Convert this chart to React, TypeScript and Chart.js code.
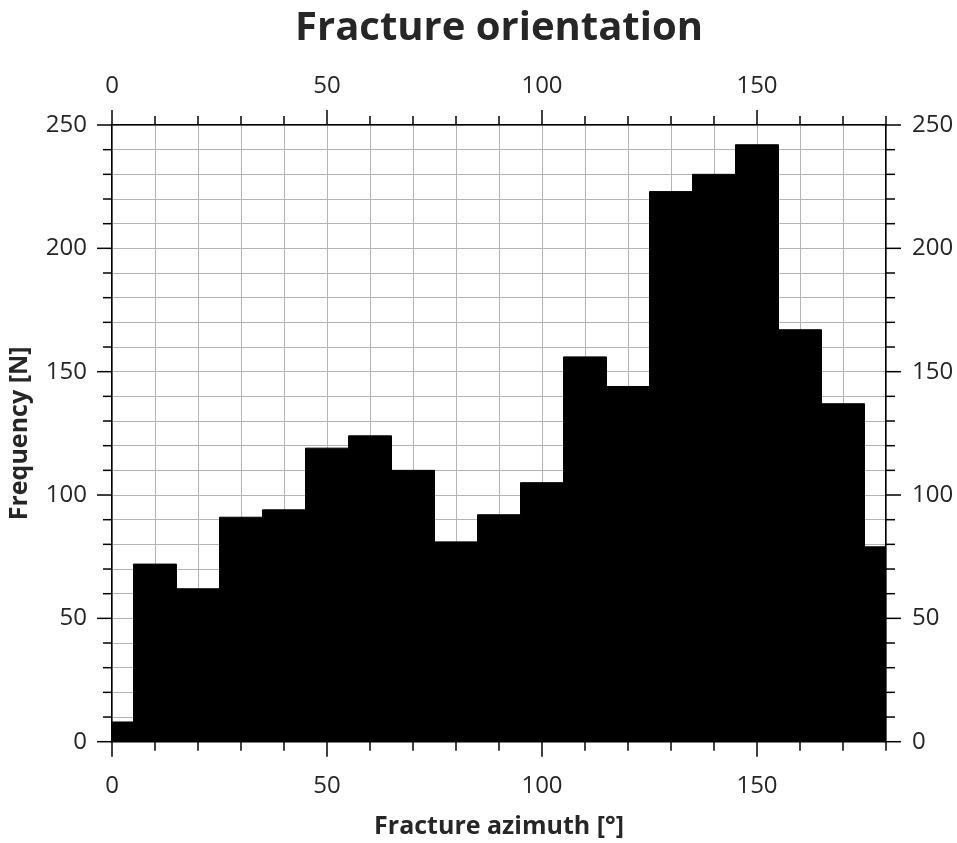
import React, { useEffect, useRef } from "react";
import { Chart, registerables } from "chart.js";

Chart.register(...registerables);

// Histogram bins (degrees) and counts per bin
const binEdges = [0, 5, 15, 25, 35, 45, 55, 65, 75, 85, 95, 105, 115, 125, 135, 145, 155, 165, 175, 180];
const counts = [8, 72, 62, 91, 94, 119, 124, 110, 81, 92, 105, 156, 144, 223, 230, 242, 167, 137, 79];

// Axis ranges and tick spacing
const xRange = [0, 180];
const yRange = [0, 250];
const minorStep = 10;
const labelStep = 50;

const TITLE = "Fracture orientation";
const X_TITLE = "Fracture azimuth [°]";
const Y_TITLE = "Frequency [N]";

const FONT = "'Open Sans', 'Noto Sans', sans-serif";
const TEXT = "#262626";
const GRID = "#b4b4b4";
const MAJOR_TICK = 15;
const MINOR_TICK = 9;

// Outward tick marks on all four sides: long at labelled values, short otherwise
const tickMarks = {
  id: "tickMarks",
  afterDraw(chart: any) {
    const { ctx, chartArea: a } = chart;
    ctx.save();
    ctx.strokeStyle = "#000";
    ctx.lineWidth = 1.5;
    const sides: [string, string][] = [
      ["x", "bottom"],
      ["x2", "top"],
      ["y", "left"],
      ["y2", "right"],
    ];
    for (const [id, side] of sides) {
      const s = chart.scales[id];
      for (let v = s.min; v <= s.max + 1e-9; v += minorStep) {
        const len = Math.round(v) % labelStep === 0 ? MAJOR_TICK : MINOR_TICK;
        const p = s.getPixelForValue(v);
        ctx.beginPath();
        if (side === "bottom") {
          ctx.moveTo(p, a.bottom);
          ctx.lineTo(p, a.bottom + len);
        } else if (side === "top") {
          ctx.moveTo(p, a.top);
          ctx.lineTo(p, a.top - len);
        } else if (side === "left") {
          ctx.moveTo(a.left, p);
          ctx.lineTo(a.left - len, p);
        } else {
          ctx.moveTo(a.right, p);
          ctx.lineTo(a.right + len, p);
        }
        ctx.stroke();
      }
    }
    ctx.restore();
  },
};

const labelEvery = (v: number | string) => (Number(v) % labelStep === 0 ? String(v) : "");

export default function App() {
  const ref = useRef<HTMLCanvasElement | null>(null);

  useEffect(() => {
    if (!ref.current) return;
    Chart.defaults.font.family = FONT;
    Chart.defaults.color = TEXT;

    // Step outline: each bin's count held from its left edge to the next edge
    const points = counts.map((c, i) => ({ x: binEdges[i], y: c }));
    points.push({ x: binEdges[binEdges.length - 1], y: counts[counts.length - 1] });

    const tickFont = { size: 24 };
    const axisTitleFont = { size: 25, weight: "bold" as const };

    const chart = new Chart(ref.current, {
      type: "line",
      data: {
        datasets: [
          {
            data: points,
            stepped: "before",
            fill: "origin",
            backgroundColor: "#000",
            borderColor: "#000",
            borderWidth: 1,
            pointRadius: 0,
            xAxisID: "x",
            yAxisID: "y",
          },
        ],
      },
      options: {
        animation: false,
        responsive: false,
        layout: { padding: 0 },
        plugins: {
          legend: { display: false },
          tooltip: { enabled: false },
          title: {
            display: true,
            fullSize: false,
            text: TITLE,
            color: TEXT,
            font: { size: 40, weight: "bold" },
            padding: { top: 5, bottom: 0 },
          },
        },
        scales: {
          x: {
            type: "linear",
            position: "bottom",
            min: xRange[0],
            max: xRange[1],
            afterFit: (s: any) => {
              s.height = 101.3;
            },
            ticks: {
              stepSize: minorStep,
              autoSkip: false,
              maxRotation: 0,
              padding: 30,
              font: tickFont,
              color: TEXT,
              callback: labelEvery,
            },
            grid: { color: GRID, lineWidth: 1, drawTicks: false },
            border: { display: true, color: "#000", width: 1.5 },
            title: {
              display: true,
              text: X_TITLE,
              color: TEXT,
              font: axisTitleFont,
              padding: { top: 0, bottom: 1 },
            },
          },
          x2: {
            type: "linear",
            position: "top",
            min: xRange[0],
            max: xRange[1],
            afterFit: (s: any) => {
              s.height = 72;
            },
            ticks: {
              stepSize: minorStep,
              autoSkip: false,
              maxRotation: 0,
              padding: 24,
              font: tickFont,
              color: TEXT,
              callback: labelEvery,
            },
            grid: { drawOnChartArea: false, drawTicks: false },
            border: { display: true, color: "#000", width: 1.5 },
          },
          y: {
            type: "linear",
            position: "left",
            min: yRange[0],
            max: yRange[1],
            afterFit: (s: any) => {
              s.width = 112;
            },
            ticks: {
              stepSize: minorStep,
              autoSkip: false,
              padding: 25,
              font: tickFont,
              color: TEXT,
              callback: labelEvery,
            },
            grid: { color: GRID, lineWidth: 1, drawTicks: false },
            border: { display: true, color: "#000", width: 1.5 },
            title: {
              display: true,
              text: Y_TITLE,
              color: TEXT,
              font: axisTitleFont,
              padding: { top: 5, bottom: 0 },
            },
          },
          y2: {
            type: "linear",
            position: "right",
            min: yRange[0],
            max: yRange[1],
            afterFit: (s: any) => {
              s.width = 71;
            },
            ticks: {
              stepSize: minorStep,
              autoSkip: false,
              padding: 26,
              font: tickFont,
              color: TEXT,
              callback: labelEvery,
            },
            grid: { drawOnChartArea: false, drawTicks: false },
            border: { display: true, color: "#000", width: 1.5 },
          },
        },
      },
      plugins: [tickMarks],
    });

    return () => chart.destroy();
  }, []);

  return (
    <div style={{ position: "absolute", left: 0, top: 0, width: 957, height: 843, background: "#fff" }}>
      <canvas ref={ref} width={957} height={843} style={{ display: "block" }} />
    </div>
  );
}
